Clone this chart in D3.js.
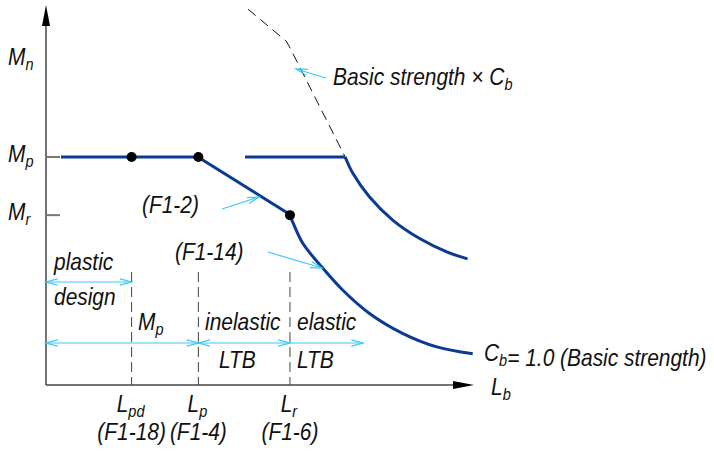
<!DOCTYPE html>
<html><head><meta charset="utf-8">
<script src="https://cdn.jsdelivr.net/npm/d3@7"></script>
<style>
body{margin:0;background:#fff;}
text{font-family:"Liberation Sans",Arial,sans-serif;font-style:italic;font-size:23px;fill:#111;}
</style></head>
<body><svg id="c" width="714" height="451"></svg>
<script>
// ---- data (Lb units on x, moment units on y) ----
const Lpd = 2.0, Lp = 3.56, Lr = 5.70;
const Mp = 6.0, Mr = 4.47;
const xTicks = [Lpd, Lp, Lr];
const xTickSymbols = [["L","pd"],["L","p"],["L","r"]];
const xTickEqs = ["(F1-18)","(F1-4)","(F1-6)"];
const yTicks = [Mp, Mr];
const yTickSymbols = [["M","p"],["M","r"]];
// basic strength curve Cb = 1.0 : straight part, then elastic curve
const basicLineX = [0.35, 2.0, 3.55, 5.68];
const basicLineY = [6.0, 6.0, 6.0, 4.50];
const basicCurveX = [5.68, 5.76, 6.00, 6.47, 6.93, 7.55, 8.33, 9.11, 9.97];
const basicCurveY = [4.50, 4.30, 3.73, 3.07, 2.50, 1.89, 1.36, 1.01, 0.82];
// basic strength x Cb (solid part, capped at Mp)
const cbLineX = [4.65, 6.99];
const cbLineY = [6.0, 6.0];
const cbCurveX = [6.99, 7.17, 7.55, 8.10, 8.72, 9.35, 9.85];
const cbCurveY = [6.0, 5.57, 4.96, 4.34, 3.86, 3.51, 3.32];
// dashed uncapped part
const dashX = [4.72, 5.61, 5.68, 6.99];
const dashY = [9.89, 9.05, 8.92, 6.0];
// dots
const dotX = [Lpd, Lp, Lr];
const dotY = [Mp, Mp, Mr];

const svg = d3.select("#c");
const x = d3.scaleLinear().domain([0,10]).range([46,474]);
const y = d3.scaleLinear().domain([0,10]).range([385,5]);
const blue = "#0a3a94", cyan = "#3cc8f5";

// axes
svg.append("line").attr("x1",x(0)).attr("x2",x(9.55)).attr("y1",y(0)).attr("y2",y(0)).attr("stroke","#444").attr("stroke-width",1.5);
svg.append("line").attr("x1",x(0)).attr("x2",x(0)).attr("y1",y(0)).attr("y2",y(9.5)).attr("stroke","#444").attr("stroke-width",1.5);
svg.append("path").attr("d",`M${x(0)},${y(10)} L${x(0)-4},${y(10)+21} L${x(0)+4},${y(10)+21}Z`).attr("fill","#000");
svg.append("path").attr("d",`M${x(10)},${y(0)} L${x(10)-21},${y(0)-4} L${x(10)-21},${y(0)+4}Z`).attr("fill","#000");

// y ticks
yTicks.forEach(v=>{
  svg.append("line").attr("x1",x(0)).attr("x2",x(0)+14).attr("y1",y(v)).attr("y2",y(v)).attr("stroke","#777").attr("stroke-width",2);
});

function label(px, py, parts, anchor){
  const t = svg.append("text").attr("x",0).attr("y",0)
    .attr("transform",`translate(${px},${py}) scale(0.91,1)`)
    .attr("text-anchor",anchor||"start");
  parts.forEach(p=>{
    if(p[1]){ t.append("tspan").attr("dy",5).style("font-size","16px").text(p[0]);
              t.append("tspan").attr("dy",-5).text(""); }
    else t.append("tspan").text(p[0]);
  });
  return t;
}
label(8, 65, [["M"],["n",1]]);
yTicks.forEach((v,i)=>label(8, y(v)+5, [[yTickSymbols[i][0]],[yTickSymbols[i][1],1]]));

// vertical dashed guides
xTicks.forEach(v=>{
  svg.append("line").attr("x1",x(v)).attr("x2",x(v)).attr("y1",272).attr("y2",y(0)).attr("stroke","#444").attr("stroke-width",1).attr("stroke-dasharray","10,5");
});
// x tick labels
xTicks.forEach((v,i)=>{
  label(x(v)-1, 412, [[xTickSymbols[i][0]],[xTickSymbols[i][1],1]], "middle");
  label(x(v), 440, [[xTickEqs[i]]], "middle");
});
label(491, 395, [["L"],["b",1]]);

const line = d3.line().x(d=>x(d[0])).y(d=>y(d[1]));
const lineC = d3.line().x(d=>x(d[0])).y(d=>y(d[1])).curve(d3.curveCatmullRom.alpha(0.5));
const zip = (a,b)=>a.map((v,i)=>[v,b[i]]);

// dashed Cb curve
svg.append("path").attr("d",line(zip(dashX,dashY))).attr("fill","none").attr("stroke","#111").attr("stroke-width",1).attr("stroke-dasharray","10,6");

svg.append("path").attr("d",line(zip(basicLineX,basicLineY))).attr("fill","none").attr("stroke",blue).attr("stroke-width",3);
svg.append("path").attr("d",lineC(zip(basicCurveX,basicCurveY))).attr("fill","none").attr("stroke",blue).attr("stroke-width",3);
svg.append("path").attr("d",line(zip(cbLineX,cbLineY))).attr("fill","none").attr("stroke",blue).attr("stroke-width",3);
svg.append("path").attr("d",lineC(zip(cbCurveX,cbCurveY))).attr("fill","none").attr("stroke",blue).attr("stroke-width",3);

// dots
dotX.forEach((v,i)=>svg.append("circle").attr("cx",x(v)).attr("cy",y(dotY[i])).attr("r",5).attr("fill","#000"));

// cyan arrows
function arrow(x1,y1,x2,y2,head1,head2){
  svg.append("line").attr("x1",x1).attr("y1",y1).attr("x2",x2).attr("y2",y2).attr("stroke",cyan).attr("stroke-width",1.2);
  const heads=[]; if(head2) heads.push([x2,y2,x1,y1]); if(head1) heads.push([x1,y1,x2,y2]);
  heads.forEach(h=>{
    const a=Math.atan2(h[3]-h[1],h[2]-h[0]), L=12, w=0.26;
    svg.append("path").attr("d",`M${h[0]+L*Math.cos(a+w)},${h[1]+L*Math.sin(a+w)} L${h[0]},${h[1]} L${h[0]+L*Math.cos(a-w)},${h[1]+L*Math.sin(a-w)}`)
      .attr("fill","none").attr("stroke",cyan).attr("stroke-width",1.2);
  });
}
arrow(326,78,296,69,false,true);
arrow(222,209,259,197,false,true);
arrow(268,252,322,268,false,true);
arrow(x(0),282,x(Lpd),282,true,true);
arrow(x(0),343,x(Lp),343,true,true);
arrow(x(Lp),343,x(Lr),343,true,true);
arrow(x(Lr),343,363,343,false,true);

// annotation texts
label(333, 85, [["Basic strength × C"],["b",1]]);
label(142, 213, [["(F1-2)"]]);
label(175, 260, [["(F1-14)"]]);
label(54, 270, [["plastic"]]);
label(54, 305, [["design"]]);
label(138, 330, [["M"],["p",1]]);
label(205, 330, [["inelastic"]]);
label(297, 330, [["elastic"]]);
label(219, 368, [["LTB"]]);
label(297, 368, [["LTB"]]);
label(484, 361, [["C"],["b",1],["= 1.0 (Basic strength)"]]);
</script></body></html>
